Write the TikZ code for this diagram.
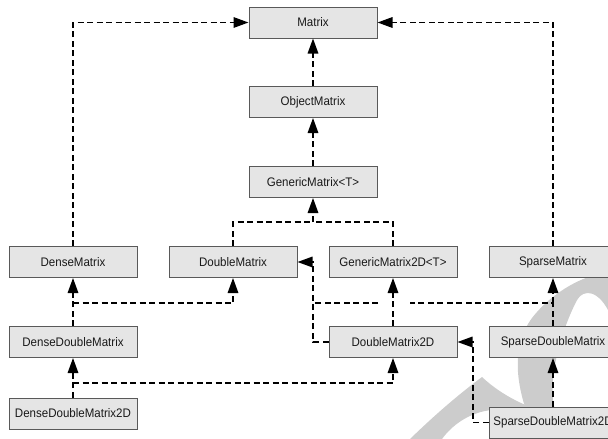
\documentclass[tikz,border=0pt]{standalone}
\usepackage{fontspec}
\setmainfont[FakeStretch=0.93]{Liberation Sans}
\usetikzlibrary{arrows.meta}
\begin{document}
\begin{tikzpicture}[x=1pt,y=-1pt,
  cls/.style={draw=black!65, fill=black!10, line width=1pt, minimum width=128pt, minimum height=31pt, inner sep=0pt, font=\fontsize{12.4}{14}\selectfont, text=black!90},
  dep/.style={line width=1.6pt, dash pattern=on 6pt off 3.5pt},
  inh/.style={dep, -{Triangle[length=15pt,width=10.5pt]}},
  wm/.style={fill=black!20, draw=none}]
\useasboundingbox (0,0) rectangle (608,439);
\clip (0,0) rectangle (608,439);
% watermark
\fill[wm] (410,439) .. controls (440,410) and (462,392) .. (482,377)
  .. controls (498,392) and (520,405) .. (548,413) -- (548,430) -- (492,410)
  .. controls (470,412) and (452,425) .. (442,439) -- cycle;
\fill[wm] (610,272) .. controls (585,274) and (552,292) .. (532,318)
  .. controls (512,345) and (516,380) .. (526,410) -- (526,439) -- (560,439)
  -- (553,400) .. controls (550,370) and (562,330) .. (576,302)
  .. controls (584,286) and (600,292) .. (610,314) -- cycle;
% classes
\node[cls] (M)    at (313,22.5) {Matrix};
\node[cls] (OM)   at (313,102) {ObjectMatrix};
\node[cls] (GM)   at (313,182) {GenericMatrix<T>};
\node[cls] (DM)   at (73,262)  {DenseMatrix};
\node[cls] (DbM)  at (233,262) {DoubleMatrix};
\node[cls] (GM2)  at (393,262) {GenericMatrix2D<T>};
\node[cls] (SM)   at (553,262) {SparseMatrix};
\node[cls] (DDM)  at (73,342)  {DenseDoubleMatrix};
\node[cls] (DbM2) at (393,342) {DoubleMatrix2D};
\node[cls] (SDM)  at (553,342) {SparseDoubleMatrix};
\node[cls] (DDM2) at (73,413.5) {DenseDoubleMatrix2D};
\node[cls] (SDM2) at (553,422.5) {SparseDoubleMatrix2D};
% junctions
\coordinate (j1) at (313,222);
\coordinate (j2) at (73,303);
\coordinate (j3) at (313,262);
\coordinate (j4) at (553,303);
\coordinate (g1) at (410,303);
\coordinate (g2) at (378,303);
\coordinate (j5) at (313,303);
\coordinate (j6) at (473,342);
\coordinate (j7) at (73,383);
% connectors
\draw[inh] (OM.north) -- (M.south);
\draw[inh] (GM.north) -- (OM.south);
\draw[dep] (DbM.north) |- (j1);
\draw[dep] (GM2.north) |- (j1);
\draw[inh] (j1) -- (GM.south);
\draw[inh] (DM.north) |- (M.west);
\draw[inh] (SM.north) |- (M.east);
\draw[inh] (DDM.north) -- (DM.south);
\draw[inh] (j2) -| (DbM.south);
\draw[inh] (DbM2.north) -- (GM2.south);
\draw[inh] (DbM2.west) -| (j3) -- (DbM.east);
\draw[dep] (SDM.north) -- (j4) -- (g1);
\draw[dep] (g2) -- (j5);
\draw[inh] (j4) -- (SM.south);
\draw[inh] (SDM2.north) -- (SDM.south);
\draw[inh] (SDM2.west) -| (j6) -- (DbM2.east);
\draw[inh] (DDM2.north) -- (DDM.south);
\draw[inh] (j7) -| (DbM2.south);
\end{tikzpicture}
\end{document}
